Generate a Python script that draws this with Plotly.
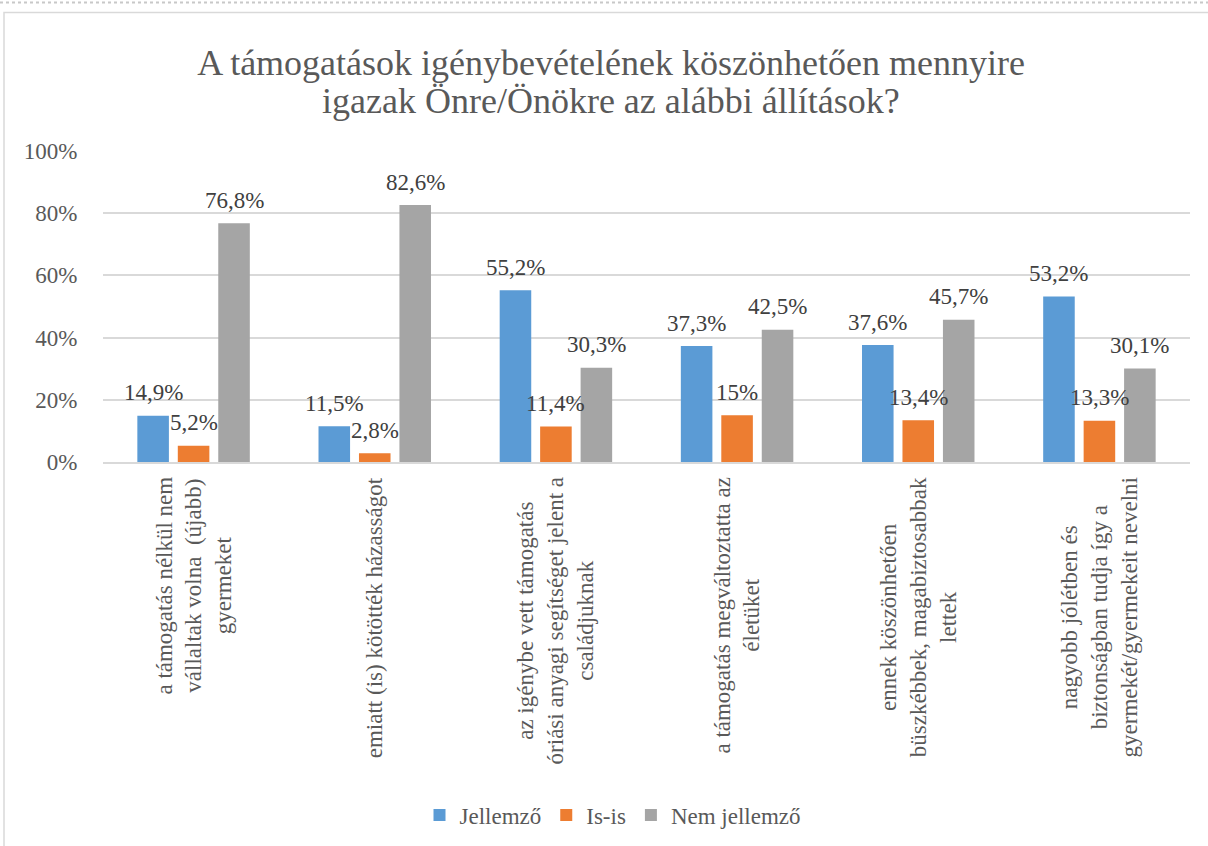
import plotly.graph_objects as go

categories = [
    "a támogatás nélkül nem<br>vállaltak volna  (újabb)<br>gyermeket",
    "emiatt (is) kötötték házasságot",
    "az igénybe vett támogatás<br>óriási anyagi segítséget jelent a<br>családjuknak",
    "a támogatás megváltoztatta az<br>életüket",
    "ennek köszönhetően<br>büszkébbek, magabiztosabbak<br>lettek",
    "nagyobb jólétben és<br>biztonságban tudja így a<br>gyermekét/gyermekeit nevelni",
]
series_names = ["Jellemző", "Is-is", "Nem jellemző"]
jellemzo = [14.9, 11.5, 55.2, 37.3, 37.6, 53.2]
is_is = [5.2, 2.8, 11.4, 15.0, 13.4, 13.3]
nem_jellemzo = [76.8, 82.6, 30.3, 42.5, 45.7, 30.1]
y_ticks = [0, 20, 40, 60, 80, 100]
title_line1 = "A támogatások igénybevételének köszönhetően mennyire"
title_line2 = "igazak Önre/Önökre az alábbi állítások?"

series_values = [jellemzo, is_is, nem_jellemzo]
colors = ["#5B9BD5", "#ED7D31", "#A5A5A5"]

W, H = 1208, 846
L, R, T, B = 103, 18, 151, 383
plot_w = W - L - R
plot_h = H - T - B
BARGAP = 0.33
BARGROUPGAP = 0.22
FONT = "Liberation Serif"
TXT = "#595959"


def px_x(p):
    return (p - L) / plot_w


def px_y(p):
    return (H - B - p) / plot_h


def fmt(v):
    return f"{v:g}".replace(".", ",") + "%"


xidx = list(range(len(categories)))

fig = go.Figure()
for name, vals, col in zip(series_names, series_values, colors):
    fig.add_trace(go.Bar(
        x=xidx, y=vals, name=name,
        marker=dict(color=col, line=dict(width=0)),
    ))

# data labels
slot = plot_w / len(categories) * (1 - BARGAP) / 3
annotations = []
for si, vals in enumerate(series_values):
    for ci, v in enumerate(vals):
        annotations.append(dict(
            x=ci, y=v, xref="x", yref="y", text=fmt(v), showarrow=False,
            xshift=(si - 1) * slot, yshift=23, yanchor="middle", xanchor="center",
            font=dict(family=FONT, size=23, color="#404040"),
        ))

# category labels (rotated, centred lines)
for ci, cat in enumerate(categories):
    annotations.append(dict(
        x=ci, y=0, xref="x", yref="paper", text=cat, showarrow=False,
        textangle=-90, yanchor="top", xanchor="center", yshift=-13,
        align="center",
        font=dict(family=FONT, size=23, color=TXT),
    ))

# second title line
annotations.append(dict(
    x=px_x(611), y=px_y(101), xref="paper", yref="paper", text=title_line2,
    showarrow=False, xanchor="center", yanchor="middle",
    font=dict(family=FONT, size=36, color=TXT),
))

shapes = [
    dict(type="rect", xref="paper", yref="paper",
         x0=px_x(4), x1=px_x(W + 10), y0=px_y(H + 10), y1=px_y(12),
         line=dict(color="#D9D9D9", width=1.5), fillcolor="rgba(0,0,0,0)", layer="below"),
    dict(type="line", xref="paper", yref="paper",
         x0=px_x(0), x1=px_x(W), y0=px_y(2), y1=px_y(2),
         line=dict(color="#C8C8C8", width=2, dash="dot")),
]

fig.update_layout(
    width=W, height=H,
    margin=dict(l=L, r=R, t=T, b=B, pad=0),
    paper_bgcolor="white", plot_bgcolor="white",
    barmode="group", bargap=BARGAP, bargroupgap=BARGROUPGAP,
    title=dict(
        text=title_line1,
        x=611 / W, xanchor="center", y=1 - 62 / H, yanchor="middle",
        font=dict(family=FONT, size=36, color=TXT),
    ),
    xaxis=dict(
        range=[-0.5, len(categories) - 0.5], showticklabels=False, showgrid=False,
        showline=True, linecolor="#D9D9D9", linewidth=1.5, zeroline=False, ticks="",
    ),
    yaxis=dict(
        range=[0, 100], tickvals=y_ticks, ticktext=[f"{t}%" for t in y_ticks],
        showgrid=True, gridcolor="#D9D9D9", gridwidth=1.5, zeroline=False,
        showline=False, ticks="outside", ticklen=20, tickcolor="rgba(0,0,0,0)",
        tickfont=dict(family=FONT, size=23, color=TXT),
    ),
    legend=dict(
        orientation="h", x=px_x(613), xanchor="center", y=px_y(815), yanchor="middle",
        font=dict(family=FONT, size=23, color=TXT), itemwidth=30,
        traceorder="normal",
    ),
    annotations=annotations,
    shapes=shapes,
)

fig.write_html(
    "out.html",
    config={"displayModeBar": False},
    post_script="document.body.style.margin='0';document.body.style.overflow='hidden';",
)
